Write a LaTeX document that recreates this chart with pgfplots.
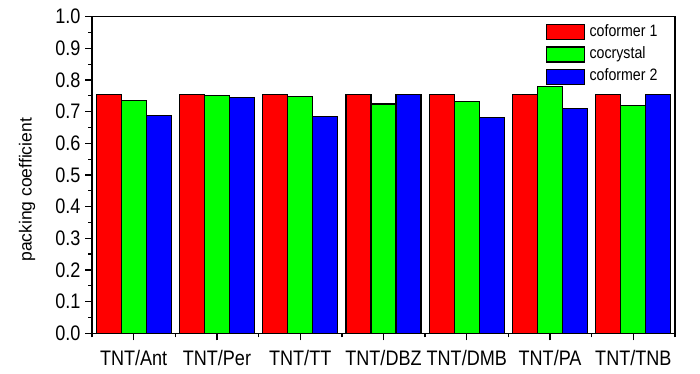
\documentclass[border=0pt]{standalone}
\usepackage{pgfplots}
\pgfplotsset{compat=1.18}
\usepackage{fontspec}
\setmainfont{Liberation Sans}
\newfontfamily\narrow[FakeStretch=0.86]{Liberation Sans}
\definecolor{cRed}{RGB}{255,0,0}
\definecolor{cGreen}{RGB}{0,255,0}
\definecolor{cBlue}{RGB}{0,0,255}
\begin{document}
\begin{tikzpicture}
\path[use as bounding box] (0,0) rectangle (700pt,374pt);
\begin{axis}[
  at={(92pt,40.7pt)}, anchor=south west,
  scale only axis, width=583pt, height=316.6pt,
  xmin=0.5, xmax=7.5, ymin=0, ymax=1.0,
  xtick={1,2,3,4,5,6,7},
  xticklabels={TNT/Ant,TNT/Per,TNT/TT,TNT/DBZ,TNT/DMB,TNT/PA,TNT/TNB},
  minor xtick={0.5,1.5,2.5,3.5,4.5,5.5,6.5,7.5},
  ytick={0,0.1,0.2,0.3,0.4,0.5,0.6,0.7,0.8,0.9,1.0},
  minor ytick={0.05,0.15,0.25,0.35,0.45,0.55,0.65,0.75,0.85,0.95},
  /pgf/number format/assume math mode=true,
  yticklabel style={xshift=-1pt, /pgf/number format/.cd, fixed, fixed zerofill, precision=1},
  ticklabel style={font=\narrow\fontsize{21}{21}\selectfont},
  xticklabel style={yshift=-6pt},
  tick align=outside, tick pos=left,
  major tick length=7pt, minor tick length=4pt,
  axis line style={line width=1.3pt},
  every tick/.style={line width=1.3pt, black},
  minor tick style={line width=1.3pt, black},
  ylabel={packing coefficient},
  ylabel style={font=\fontsize{17.5}{17.5}\selectfont, at={(axis description cs:-0.1115,0.453)}, anchor=center},
  bar width=0.3,
  legend style={draw=none, fill=none, at={(axis description cs:0.7782,0.977)}, anchor=north west,
    font=\narrow\fontsize{16.5}{16.5}\selectfont, inner sep=0pt, row sep=6pt,
    nodes={inner sep=0pt, text height=11.5pt, text depth=3.5pt},
    cells={anchor=west}},
  legend image code/.code={\draw[#1, line width=1.2pt] (0pt,-7.5pt) rectangle (38pt,7.5pt);},
  /tikz/every odd column/.append style={column sep=4.5pt},
]
\addplot[ybar, bar shift=-0.3, fill=cRed, draw=black, line width=1.2pt] coordinates {
  (1,0.755) (2,0.755) (3,0.755) (4,0.755) (5,0.755) (6,0.755) (7,0.755)};
\addlegendentry{coformer 1}
\addplot[ybar, bar shift=0, fill=cGreen, draw=black, line width=1.2pt] coordinates {
  (1,0.735) (2,0.750) (3,0.747) (4,0.724) (5,0.732) (6,0.779) (7,0.720)};
\addlegendentry{cocrystal}
\addplot[ybar, bar shift=0.3, fill=cBlue, draw=black, line width=1.2pt] coordinates {
  (1,0.687) (2,0.744) (3,0.684) (4,0.755) (5,0.682) (6,0.709) (7,0.755)};
\addlegendentry{coformer 2}
\end{axis}
\end{tikzpicture}
\end{document}
